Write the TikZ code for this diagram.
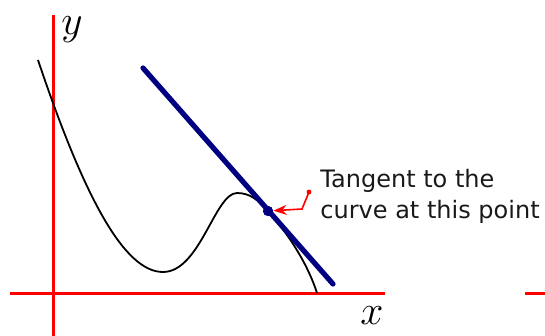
\documentclass[tikz,border=0pt]{standalone}
\usepackage{fontspec}
\newfontfamily\notefont{DejaVu Sans}
\usetikzlibrary{arrows.meta,positioning,calc}
\tikzset{
  tgaxis/.style={draw=red,line width=1.5pt},
  tgcurve/.style={draw=black,line width=0.9pt},
  tgline/.style={draw=blue!50!black,line width=2.6pt,line cap=round},
  tgpoint/.style={circle,fill=blue!50!black,minimum size=5pt,inner sep=0pt},
  tgnote/.style={font=\notefont\fontsize{12}{15}\selectfont,align=left,inner sep=0pt,text=black!90},
  tgarrow/.style={->,>=Stealth,draw=red,line width=0.8pt},
  tglabel/.style={font=\huge,inner sep=0pt}
}
\begin{document}
\begin{tikzpicture}[x=0.5pt,y=-0.5pt]
  \useasboundingbox (0,0) rectangle (545,336);
  % axes
  \draw[tgaxis] (53,15) -- (53,336);
  \draw[tgaxis] (10,293) -- (385,293);
  \draw[tgaxis] (525,293) -- (545,293);
  \node[tglabel] (ylab) at (72,30) {$y$};
  \node[tglabel] (xlab) at (372,316) {$x$};
  % the curve
  \node[tgpoint] (pt) at (268,211) {};
  \draw[tgcurve] (38,60) .. controls (85,200) and (125,272) .. (163,272)
    .. controls (200,272) and (215,193) .. (237,193)
    .. controls (250,193) and (258,200) .. (pt.center)
    .. controls (290,236) and (308,265) .. (317,293);
  % tangent line and point
  \coordinate (tga) at (143,68);
  \coordinate (tgb) at (333,284);
  \draw[tgline] (tga) -- (tgb);
  \node[tgpoint] at (pt) {};
  % note
  \node[tgnote,anchor=base west] (note) at (320,218) {Tangent to the\\curve at this point};
  \coordinate (arrstart) at (309,192);
  \draw[tgarrow] (arrstart) -- (302,209) -- (pt);
  \fill[red] (arrstart) circle (1.2pt);
\end{tikzpicture}
\end{document}
